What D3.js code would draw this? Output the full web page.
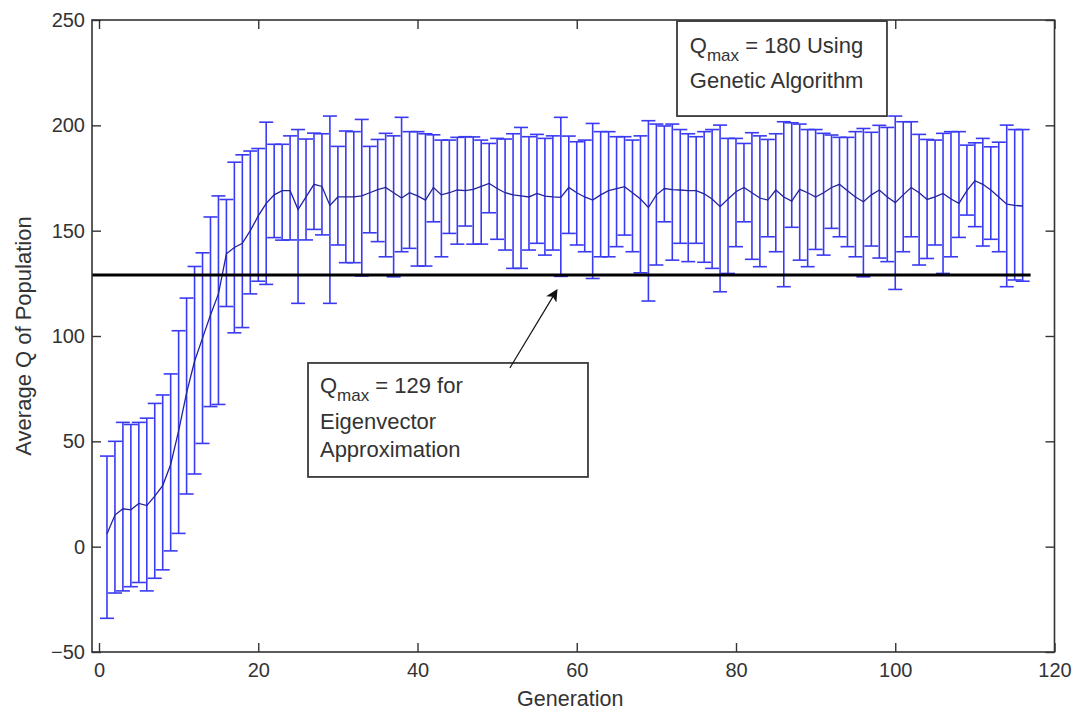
<!DOCTYPE html>
<html>
<head>
<meta charset="utf-8">
<script src="https://cdn.jsdelivr.net/npm/d3@7"></script>
<style>
  html, body { margin: 0; padding: 0; background: #fff; }
  svg { display: block; font-family: "Liberation Sans", Arial, sans-serif; }
</style>
</head>
<body>
<svg id="chart" width="1078" height="715"></svg>
<script>
// Average modularity Q of the population per generation (mean, upper and lower error bounds)
const meanQ = [
  6, 15, 18, 17.5, 20.5, 19.5, 24, 29, 39, 55,
  73, 88, 99, 110, 120, 139, 142, 144, 150, 157,
  163, 167, 169, 169, 160, 166, 172, 171, 162, 166,
  166, 166, 166.5, 168, 169.5, 170.5, 168, 165.5, 168, 166.5,
  164.5, 170.5, 167, 168, 169.3, 169, 169.6, 171, 172.4, 170,
  168, 167, 166.5, 166, 167.7, 166.4, 166, 165.8, 170.5, 168,
  166, 164.5, 167, 169, 170, 170.9, 168, 165, 161, 167,
  170, 169.5, 169.3, 169, 169, 167.5, 165, 161.4, 165, 168.5,
  170.5, 168, 165.5, 164.5, 169.3, 166, 164, 169.6, 168, 166,
  168, 170.5, 172, 169, 166, 163.7, 167, 169.3, 166, 163.3,
  167, 170.5, 168, 164.8, 166, 167.7, 165, 163, 169, 173.7,
  172, 169.3, 166, 162.6, 162, 161.7
];
const upperQ = [
  43, 50, 59, 58, 59, 61, 68, 72, 82, 102.5,
  118, 133, 139.5, 156.5, 166.5, 164.8, 182.5, 186, 187.8, 189,
  201.5, 191, 191, 195, 198, 193.5, 196.3, 196, 204.4, 190,
  197.3, 197, 202.8, 190, 193.3, 196.2, 195, 203.8, 197, 197,
  196, 195.5, 193, 193, 194.3, 194.6, 194.5, 193, 191.4, 193.8,
  193.5, 196, 199, 194.6, 195.7, 193.8, 195, 203.8, 194.9, 192.2,
  193, 200.9, 197, 197, 194.6, 194.6, 193, 195, 202.2, 200.6,
  199.7, 200.6, 198, 196, 194.6, 197, 198, 200.1, 193.8, 193.8,
  191.4, 196.5, 195, 193.3, 196, 201.7, 201.2, 200.6, 198, 198,
  196.2, 195.4, 194.3, 194.3, 197, 198.5, 196.7, 200, 199, 204.4,
  201.7, 201.7, 195.7, 193.3, 193, 196.2, 197, 197, 190.6, 191.7,
  193.8, 189.8, 192, 200.1, 198, 198
];
const lowerQ = [
  -34, -22, -21, -19, -17, -21, -15, -11, -2, 6.3,
  25, 34.5, 49, 66.5, 67.5, 114, 101.5, 104, 120, 126,
  124.5, 146.7, 145.5, 145.6, 115.5, 145.6, 150.6, 148, 115.5, 143.2,
  134.8, 134.8, 128.5, 149, 144.8, 137.6, 128.1, 140, 141.6, 133.2,
  133.2, 154.2, 137.6, 148.7, 143.6, 152.2, 143.6, 143.6, 158.5, 145.9,
  140.8, 132.1, 132.1, 140.8, 144, 138.4, 140.8, 128.3, 148.7, 143.2,
  140, 127.3, 137.6, 137.6, 142.4, 147.9, 140, 130, 116.6, 133.7,
  154.2, 136, 144, 135.3, 144, 135, 132.1, 121, 129.7, 142.4,
  154.2, 136.4, 132.9, 147.1, 140, 123.4, 151.6, 136, 132.9, 141.1,
  138.4, 151.1, 147.1, 142.4, 137.6, 128.1, 142.7, 137, 135.3, 122.1,
  140, 147.1, 133.7, 136.8, 143.2, 129.7, 137.6, 146.8, 157.4, 151.9,
  142.7, 145.9, 140, 123.4, 126.6, 126
];
const generations = meanQ.map((_, i) => i + 1);

const xTicks = [0, 20, 40, 60, 80, 100, 120];
const yTicks = [-50, 0, 50, 100, 150, 200, 250];

// Best Q found by the eigenvector approximation (reference line)
const eigenQ = 129;
const eigenSpan = [-0.88, 117];

// ---- layout ----
const plot = { left: 92, top: 20, right: 1054.5, bottom: 652 };
const textColor = "#333";
const axisColor = "#333";
const barColor = "#3a3af2";
const lineColor = "#23239c";

const svg = d3.select("#chart");

const x = d3.scaleLinear().domain([-0.88, 120]).range([plot.left, plot.right]);
const y = d3.scaleLinear().domain([-50, 250]).range([plot.bottom, plot.top]);

// ---- error bars ----
const capHalf = 7;
const bars = svg.append("g")
  .attr("stroke", barColor)
  .attr("stroke-width", 1.6)
  .attr("fill", "none");

generations.forEach((g, i) => {
  const cx = x(g), yt = y(upperQ[i]), yb = y(lowerQ[i]);
  bars.append("line").attr("x1", cx).attr("x2", cx).attr("y1", yt).attr("y2", yb);
  bars.append("line").attr("x1", cx - capHalf).attr("x2", cx + capHalf).attr("y1", yt).attr("y2", yt);
  bars.append("line").attr("x1", cx - capHalf).attr("x2", cx + capHalf).attr("y1", yb).attr("y2", yb);
});

// ---- mean line ----
svg.append("path")
  .datum(generations.map((g, i) => [g, meanQ[i]]))
  .attr("fill", "none")
  .attr("stroke", lineColor)
  .attr("stroke-width", 1.3)
  .attr("d", d3.line().x(d => x(d[0])).y(d => y(d[1])));

// ---- eigenvector reference line ----
svg.append("line")
  .attr("x1", x(eigenSpan[0])).attr("x2", x(eigenSpan[1]))
  .attr("y1", y(eigenQ)).attr("y2", y(eigenQ))
  .attr("stroke", "#000").attr("stroke-width", 3);

// ---- axes (ticks inside, box on) ----
function styleAxis(g) {
  g.select(".domain").remove();
  g.selectAll(".tick line").attr("stroke", axisColor).attr("stroke-width", 1.4);
  g.selectAll(".tick text")
    .attr("fill", textColor)
    .style("font-size", "20px")
    .style("font-family", '"Liberation Sans", Arial, sans-serif');
}

svg.append("g")
  .attr("transform", `translate(0,${plot.bottom})`)
  .call(d3.axisBottom(x).tickValues(xTicks).tickSize(-9).tickPadding(11).tickFormat(d3.format("d")))
  .call(styleAxis);

svg.append("g")
  .attr("transform", `translate(0,${plot.top})`)
  .call(d3.axisTop(x).tickValues(xTicks).tickSize(-9).tickFormat(""))
  .call(styleAxis);

svg.append("g")
  .attr("transform", `translate(${plot.left},0)`)
  .call(d3.axisLeft(y).tickValues(yTicks).tickSize(-9).tickPadding(7).tickFormat(d3.format("d")))
  .call(styleAxis);

svg.append("g")
  .attr("transform", `translate(${plot.right},0)`)
  .call(d3.axisRight(y).tickValues(yTicks).tickSize(-9).tickFormat(""))
  .call(styleAxis);

svg.append("rect")
  .attr("x", plot.left).attr("y", plot.top)
  .attr("width", plot.right - plot.left).attr("height", plot.bottom - plot.top)
  .attr("fill", "none").attr("stroke", axisColor).attr("stroke-width", 1.6);

// ---- axis titles ----
svg.append("text")
  .attr("x", (plot.left + plot.right) / 2 - 3)
  .attr("y", 706)
  .attr("text-anchor", "middle")
  .attr("fill", textColor)
  .style("font-size", "21.5px")
  .text("Generation");

svg.append("text")
  .attr("transform", `translate(31,${(plot.top + plot.bottom) / 2}) rotate(-90)`)
  .attr("text-anchor", "middle")
  .attr("fill", textColor)
  .style("font-size", "22px")
  .text("Average Q of Population");

// ---- annotations ----
const notes = [
  { box: [72.59, 98.96, 249.5, 204.4], left: 74.2,
    lines: [{ v: 234.3, sub: true, rest: " = 180 Using" }, { v: 217.7, text: "Genetic Algorithm" }] },
  { box: [26.25, 61.41, 87.2, 33.1], left: 27.75,
    lines: [{ v: 72.9, sub: true, rest: " = 129 for" }, { v: 55.8, text: "Eigenvector" }, { v: 42.6, text: "Approximation" }] }
];

notes.forEach(n => {
  const [g0, g1, v0, v1] = n.box;
  svg.append("rect")
    .attr("x", x(g0)).attr("y", y(v0))
    .attr("width", x(g1) - x(g0)).attr("height", y(v1) - y(v0))
    .attr("fill", "#fff").attr("stroke", "#3a3a3a").attr("stroke-width", 1.8);
  n.lines.forEach(l => {
    const t = svg.append("text")
      .attr("x", x(n.left)).attr("y", y(l.v))
      .attr("fill", textColor)
      .style("font-size", "22px")
      .attr("xml:space", "preserve");
    if (l.sub) {
      t.append("tspan").text("Q");
      t.append("tspan").attr("dy", 8).style("font-size", "17px").text("max");
      t.append("tspan").attr("dy", -8).text(l.rest);
    } else {
      t.text(l.text);
    }
  });
});

// arrow from the eigenvector note to the reference line
const arrowTail = [51.6, 84.8], arrowTip = [57.5, 121.8];
const defs = svg.append("defs");
defs.append("marker")
  .attr("id", "head")
  .attr("viewBox", "0 0 10 10")
  .attr("refX", 9).attr("refY", 5)
  .attr("markerWidth", 16).attr("markerHeight", 12)
  .attr("markerUnits", "userSpaceOnUse")
  .attr("orient", "auto")
  .append("path").attr("d", "M0,0 L10,5 L0,10 L2.5,5 Z").attr("fill", "#111");

svg.append("line")
  .attr("x1", x(arrowTail[0])).attr("y1", y(arrowTail[1]))
  .attr("x2", x(arrowTip[0])).attr("y2", y(arrowTip[1]))
  .attr("stroke", "#111").attr("stroke-width", 1.2)
  .attr("marker-end", "url(#head)");
</script>
</body>
</html>
